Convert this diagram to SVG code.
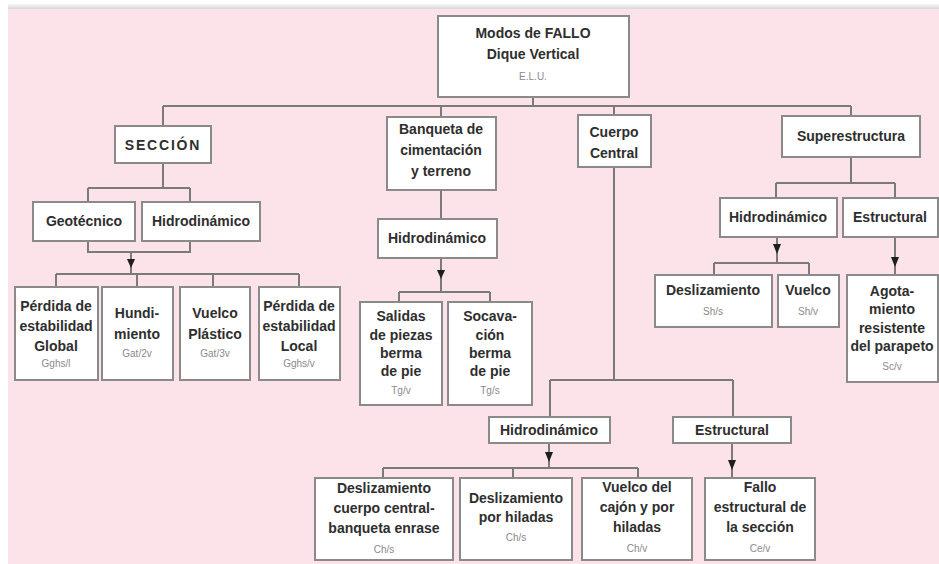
<svg xmlns="http://www.w3.org/2000/svg" width="939" height="564" viewBox="0 0 939 564">
<defs>
<linearGradient id="topg" x1="0" y1="0" x2="0" y2="1">
<stop offset="0" stop-color="#ffffff"/>
<stop offset="1" stop-color="#d9d6d7"/>
</linearGradient>
</defs>
<style>
.bx{fill:#ffffff;stroke:#8a8a8a;stroke-width:2}
.sh{fill:#b9b2b4}
.ln{fill:none;stroke:#7a7a7a;stroke-width:2}
.ah{fill:#1e1e1e}
text{font-family:"Liberation Sans",Arial,sans-serif;text-anchor:middle}
.t{font-size:14px;font-weight:bold;fill:#2e2e2e}
.s{font-size:10px;fill:#8a8a8a}
</style>
<rect x="0" y="0" width="939" height="564" fill="#ffffff"/>
<rect x="8" y="3" width="931" height="6" fill="url(#topg)"/>
<rect x="8" y="9" width="931" height="555" fill="#fbe3e9"/>

<g id="connectors">
<path class="ln" d="M163,106 H851 M533,97 V106 M163,106 V126 M441,106 V117 M614,106 V115 M851,106 V116"/>
<path class="ln" d="M163,163 V188 M88,188 H190 M88,188 V202 M190,188 V202"/>
<path class="ln" d="M88,241 V252 H190 V241 M131,252 V274 M56,274 H299 M56,274 V287 M137,274 V287 M213,274 V287 M299,274 V287"/>
<path class="ln" d="M441,190 V219 M441,258 V292 M399,292 H490 M399,292 V302 M490,292 V302"/>
<path class="ln" d="M851,157 V183 M776,183 H895 M776,183 V198 M895,183 V198"/>
<path class="ln" d="M777,237 V263 M714,263 H809 M714,263 V275 M809,263 V275 M895,237 V275"/>
<path class="ln" d="M614,167 V380 M550,380 H733 M550,380 V417 M733,380 V417"/>
<path class="ln" d="M549,443 V468 M383,468 H638 M383,468 V478 M513,468 V478 M638,468 V478 M732,443 V478"/>
<polygon class="ah" points="127,259 135,259 131,268"/>
<polygon class="ah" points="437,270 445,270 441,279"/>
<polygon class="ah" points="773,244 781,244 777,254"/>
<polygon class="ah" points="891,257 899,257 895,267"/>
<polygon class="ah" points="545,452 553,452 549,462"/>
<polygon class="ah" points="728,460 736,460 732,470"/>
</g>

<g id="root">
<rect class="bx" x="438" y="16" width="191" height="81"/>
<text class="t" x="533" y="38" font-size="15">Modos de FALLO</text>
<text class="t" x="533" y="59" font-size="15">Dique Vertical</text>
<text class="s" x="533" y="80">E.L.U.</text>
</g>

<g id="seccion">
<rect class="bx" x="115" y="126" width="96" height="37"/>
<text class="t" x="163" y="150" letter-spacing="1.8">SECCIÓN</text>
</g>
<g id="banqueta">
<rect class="bx" x="387" y="117" width="109" height="73"/>
<text class="t" x="441" y="134">Banqueta de</text>
<text class="t" x="441" y="155">cimentación</text>
<text class="t" x="441" y="176">y terreno</text>
</g>
<g id="cuerpo">
<rect class="bx" x="578" y="115" width="73" height="52"/>
<text class="t" x="614" y="137">Cuerpo</text>
<text class="t" x="614" y="158">Central</text>
</g>
<g id="superestructura">
<rect class="bx" x="782" y="116" width="138" height="41"/>
<text class="t" x="851" y="141">Superestructura</text>
</g>

<g id="geotecnico">
<rect class="bx" x="33" y="202" width="102" height="39"/>
<text class="t" x="84" y="226">Geotécnico</text>
</g>
<g id="hidro-seccion">
<rect class="bx" x="142" y="202" width="118" height="39"/>
<text class="t" x="201" y="226">Hidrodinámico</text>
</g>
<g id="hidro-banqueta">
<rect class="bx" x="378" y="219" width="119" height="39"/>
<text class="t" x="437" y="243">Hidrodinámico</text>
</g>
<g id="hidro-super">
<rect class="bx" x="720" y="198" width="117" height="39"/>
<text class="t" x="778" y="222">Hidrodinámico</text>
</g>
<g id="estructural-super">
<rect class="bx" x="843" y="198" width="95" height="39"/>
<text class="t" x="890" y="222">Estructural</text>
</g>

<g id="perdida-global">
<rect class="bx" x="15" y="287" width="83" height="93"/>
<text class="t" x="56" y="311">Pérdida de</text>
<text class="t" x="56" y="331">estabilidad</text>
<text class="t" x="56" y="351">Global</text>
<text class="s" x="56" y="367">Gghs/l</text>
</g>
<g id="hundimiento">
<rect class="bx" x="102" y="287" width="71" height="93"/>
<text class="t" x="137" y="318">Hundi-</text>
<text class="t" x="137" y="339">miento</text>
<text class="s" x="137" y="357">Gat/2v</text>
</g>
<g id="vuelco-plastico">
<rect class="bx" x="180" y="287" width="70" height="93"/>
<text class="t" x="215" y="318">Vuelco</text>
<text class="t" x="215" y="339">Plástico</text>
<text class="s" x="215" y="357">Gat/3v</text>
</g>
<g id="perdida-local">
<rect class="bx" x="259" y="287" width="81" height="93"/>
<text class="t" x="299" y="311">Pérdida de</text>
<text class="t" x="299" y="331">estabilidad</text>
<text class="t" x="299" y="351">Local</text>
<text class="s" x="299" y="367">Gghs/v</text>
</g>

<g id="salidas">
<rect class="bx" x="360" y="302" width="82" height="103"/>
<text class="t" x="401" y="321">Salidas</text>
<text class="t" x="401" y="340">de piezas</text>
<text class="t" x="401" y="358">berma</text>
<text class="t" x="401" y="376">de pie</text>
<text class="s" x="401" y="394">Tg/v</text>
</g>
<g id="socavacion">
<rect class="bx" x="448" y="302" width="84" height="103"/>
<text class="t" x="490" y="321">Socava-</text>
<text class="t" x="490" y="340">ción</text>
<text class="t" x="490" y="358">berma</text>
<text class="t" x="490" y="376">de pie</text>
<text class="s" x="490" y="394">Tg/s</text>
</g>

<g id="deslizamiento-super">
<rect class="bx" x="655" y="275" width="117" height="52"/>
<text class="t" x="713" y="295">Deslizamiento</text>
<text class="s" x="713" y="315">Sh/s</text>
</g>
<g id="vuelco-super">
<rect class="bx" x="778" y="275" width="61" height="52"/>
<text class="t" x="808" y="295">Vuelco</text>
<text class="s" x="808" y="315">Sh/v</text>
</g>
<g id="agotamiento">
<rect class="bx" x="847" y="275" width="91" height="107"/>
<text class="t" x="892" y="296">Agota-</text>
<text class="t" x="892" y="314">miento</text>
<text class="t" x="892" y="333">resistente</text>
<text class="t" x="892" y="351">del parapeto</text>
<text class="s" x="892" y="370">Sc/v</text>
</g>

<g id="hidro-cuerpo">
<rect class="bx" x="489" y="417" width="121" height="26"/>
<text class="t" x="549" y="435">Hidrodinámico</text>
</g>
<g id="estructural-cuerpo">
<rect class="bx" x="673" y="417" width="118" height="26"/>
<text class="t" x="732" y="435">Estructural</text>
</g>

<g id="deslizamiento-cuerpo">
<rect class="bx" x="315" y="478" width="138" height="82"/>
<text class="t" x="384" y="493">Deslizamiento</text>
<text class="t" x="384" y="513">cuerpo central-</text>
<text class="t" x="384" y="533">banqueta enrase</text>
<text class="s" x="384" y="553">Ch/s</text>
</g>
<g id="deslizamiento-hiladas">
<rect class="bx" x="460" y="478" width="112" height="82"/>
<text class="t" x="516" y="503">Deslizamiento</text>
<text class="t" x="516" y="522">por hiladas</text>
<text class="s" x="516" y="541">Ch/s</text>
</g>
<g id="vuelco-cajon">
<rect class="bx" x="582" y="478" width="110" height="82"/>
<text class="t" x="637" y="492">Vuelco del</text>
<text class="t" x="637" y="512">cajón y por</text>
<text class="t" x="637" y="532">hiladas</text>
<text class="s" x="637" y="552">Ch/v</text>
</g>
<g id="fallo-estructural">
<rect class="bx" x="705" y="478" width="110" height="82"/>
<text class="t" x="760" y="492">Fallo</text>
<text class="t" x="760" y="512">estructural de</text>
<text class="t" x="760" y="532">la sección</text>
<text class="s" x="760" y="552">Ce/v</text>
</g>
</svg>
